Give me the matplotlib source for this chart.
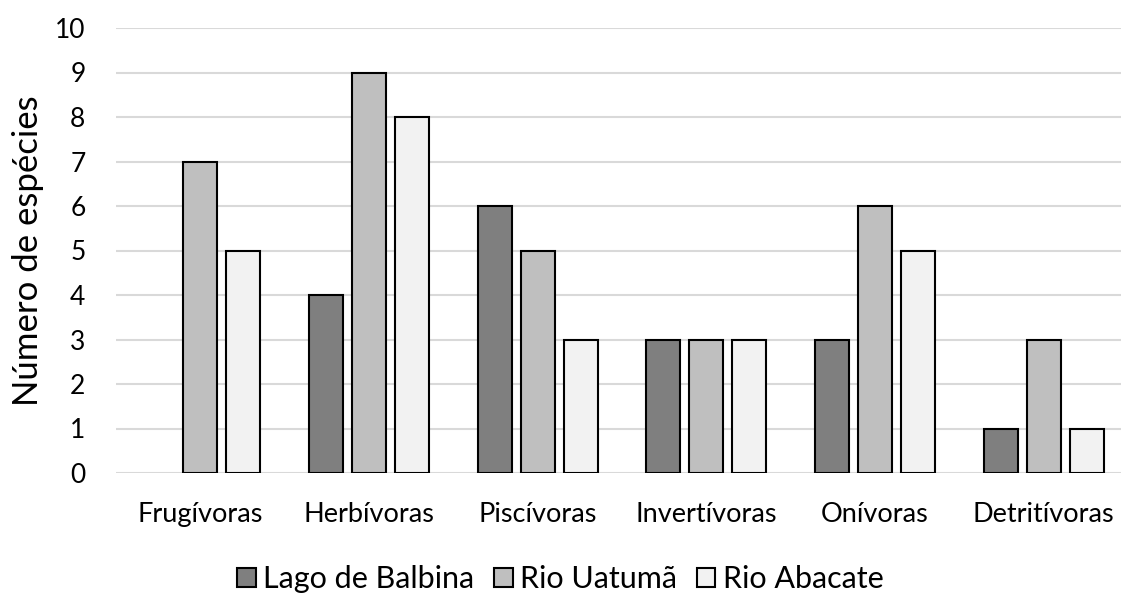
import matplotlib.pyplot as plt
from matplotlib.patches import Patch

plt.rcParams['font.family'] = ['Lato', 'DejaVu Sans']

categorias = ['Frugívoras', 'Herbívoras', 'Piscívoras', 'Invertívoras', 'Onívoras', 'Detritívoras']
lago_balbina = [0, 4, 6, 3, 3, 1]
rio_uatuma = [7, 9, 5, 3, 6, 3]
rio_abacate = [5, 8, 3, 3, 5, 1]
series_nomes = ['Lago de Balbina', 'Rio Uatumã', 'Rio Abacate']
cores = ['#7f7f7f', '#bfbfbf', '#f2f2f2']

fig = plt.figure(figsize=(11.21, 5.96), dpi=100)
ax = fig.add_axes([116 / 1121, 123 / 596, 1012 / 1121, 445 / 596])

largura = 0.2
passo = 0.255
for j, valores in enumerate([lago_balbina, rio_uatuma, rio_abacate]):
    # zero counts get no bar at all
    xs = [i + (j - 1) * passo for i, v in enumerate(valores) if v > 0]
    hs = [v for v in valores if v > 0]
    ax.bar(xs, hs, width=largura, color=cores[j], edgecolor='black',
           linewidth=1.5, zorder=3)

ax.set_xlim(-0.5, len(categorias) - 0.5)
ax.set_ylim(0, 10)
ax.set_yticks(range(0, 11))
ax.set_xticks(range(len(categorias)))
ax.set_xticklabels(categorias)
ax.grid(axis='y', color='#d9d9d9', linewidth=1.5, zorder=0)
ax.set_axisbelow(True)
for s in ax.spines.values():
    s.set_visible(False)
ax.tick_params(axis='y', length=0, pad=22, labelsize=19)
ax.tick_params(axis='x', length=0, pad=21, labelsize=19.5)
ax.set_ylabel('Número de espécies', fontsize=25, labelpad=8)

handles = [Patch(facecolor=c, edgecolor='black', linewidth=1.5) for c in cores]
fig.legend(handles, series_nomes, loc='center', bbox_to_anchor=(0.5, 17 / 596),
           ncol=3, frameon=False, fontsize=22, handlelength=0.6, handleheight=0.6,
           handletextpad=0.25, columnspacing=0.65)

fig.savefig('out.png', dpi=100)
